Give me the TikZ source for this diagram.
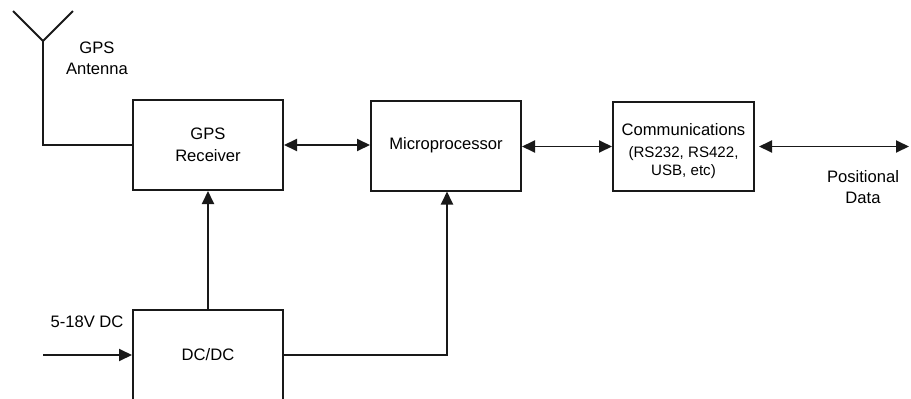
\documentclass[tikz,border=0pt]{standalone}
\usepackage{fontspec}
\setmainfont{Liberation Sans}
\usetikzlibrary{arrows.meta}
\begin{document}
\begin{tikzpicture}[x=1pt,y=-1pt,
  blk/.style={draw=black!90,line width=2pt,minimum width=150pt,minimum height=90pt,align=center,inner sep=0pt,font=\fontsize{16.6}{22}\selectfont},
  lbl/.style={align=center,font=\fontsize{16.6}{21}\selectfont,inner sep=0pt},
  wire/.style={draw=black!90,line width=1.9pt},
  tip/.tip={Triangle[length=13pt,width=12pt]},
  arr/.style={wire,-tip},
  darr/.style={wire,tip-tip}]
\useasboundingbox (0,0) rectangle (911,399);
\clip (0,0) rectangle (911,399);
% blocks
\node[blk] (rx) at (208,145) {GPS\\Receiver};
\node[blk] (mp) at (446,145.5) {Microprocessor};
\node[blk,minimum width=141pt,minimum height=89pt] (cm) at (683.5,146.5) {\rule{0pt}{21pt}Communications\\[0pt]\fontsize{15.1}{18}\selectfont(RS232, RS422,\\[-4pt]\fontsize{15.1}{18}\selectfont USB, etc)};
\node[blk] (dc) at (208,355) {DC/DC};
% antenna
\coordinate (apex) at (43,41);
\coordinate (al) at (13,11);
\coordinate (ar) at (73,11);
\coordinate (ac) at (43,145);
\draw[wire] (al) -- (apex) -- (ar);
\draw[wire] (apex) -- (ac) -- (rx.west);
\node[lbl] (antl) at (97,58) {GPS\\Antenna};
% links
\draw[darr] (rx.east) -- (mp.west |- rx.east);
\draw[darr] (mp.east |- cm.west) -- (cm.west);
\coordinate (pd) at (909,146.5);
\draw[darr] ([xshift=4pt]cm.east) -- (pd);
\node[lbl] (pdl) at (863,187) {Positional\\Data};
% power
\coordinate (vin) at (43,355);
\draw[arr] (vin) -- (dc.west);
\node[lbl] (vinl) at (87,322) {5-18V DC};
\draw[arr] (dc.north) -- (rx.south);
\coordinate (bend) at (447,355);
\draw[arr] (dc.east) -- (bend) -- (bend |- mp.south);
\end{tikzpicture}
\end{document}
